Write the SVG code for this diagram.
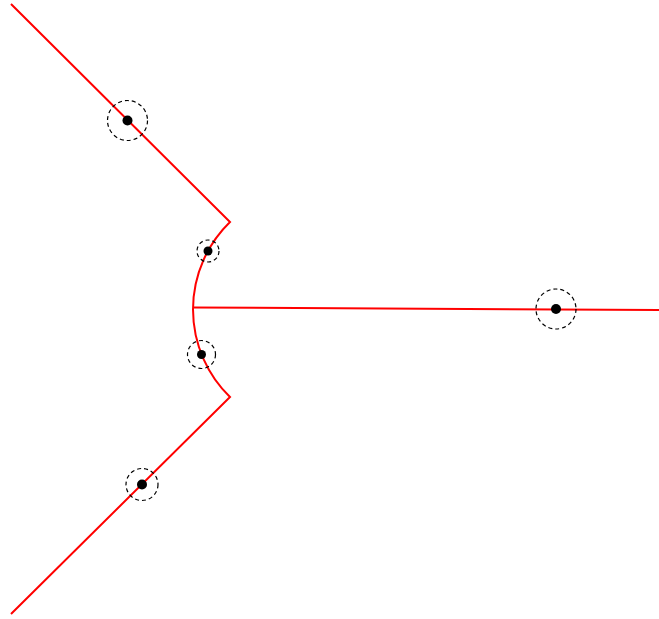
<svg xmlns="http://www.w3.org/2000/svg" width="659" height="619" viewBox="0 0 659 619">
<style>
.locus{fill:none;stroke:#ff0000;stroke-width:2}
.ring{fill:none;stroke:#000;stroke-width:1.2;stroke-dasharray:4,3}
.dot{fill:#000}
</style>
<rect width="659" height="619" fill="#fff"/>
<g id="connectors">
<path class="locus" d="M11,4 L230,222 A122,122 0 0 0 230,397 L11,614"/>
<path class="locus" d="M193,307.5 L659,310"/>
</g>
<g id="n1"><circle class="ring" cx="127.5" cy="120.5" r="20"/><circle class="dot" cx="127.5" cy="120.5" r="5"/></g>
<g id="n2"><circle class="ring" cx="208" cy="251" r="11"/><circle class="dot" cx="208" cy="251" r="4.5"/></g>
<g id="n3"><circle class="ring" cx="201.5" cy="354.5" r="14"/><circle class="dot" cx="201.5" cy="354.5" r="4.5"/></g>
<g id="n4"><circle class="ring" cx="142" cy="484.5" r="16"/><circle class="dot" cx="142" cy="484.5" r="5"/></g>
<g id="n5"><circle class="ring" cx="556" cy="309" r="20"/><circle class="dot" cx="556" cy="309" r="5"/></g>
</svg>
